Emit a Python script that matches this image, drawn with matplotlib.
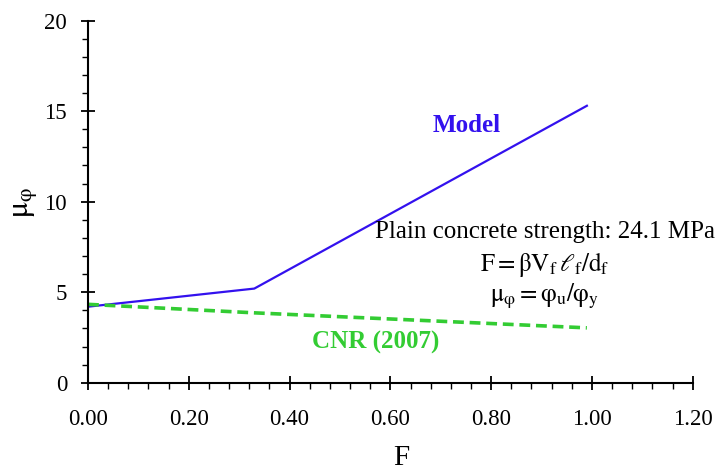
import matplotlib
matplotlib.use("Agg")
import matplotlib.pyplot as plt
from matplotlib.ticker import MultipleLocator, FormatStrFormatter

plt.rcParams['font.family'] = ['Liberation Serif', 'DejaVu Serif']
plt.rcParams['mathtext.fontset'] = 'stix'

F_model = [0.0, 0.33, 0.99]
mu_model = [4.2, 5.2, 15.3]
F_cnr = [0.0, 0.33, 0.99]
mu_cnr = [4.33, 3.86, 3.03]

fig = plt.figure(figsize=(7.22, 4.71), dpi=100)
ax = fig.add_axes([88/722, (471-382.7)/471, (692.7-88)/722, (382.7-20.7)/471])

ax.plot(F_model, mu_model, color='#3311ee', lw=1.6)
ax.plot(F_cnr, mu_cnr, color='#33cc33', lw=2.6, ls=(0, (3, 1.6)))

ax.set_xlim(0, 1.2)
ax.set_ylim(0, 20)
ax.xaxis.set_major_locator(MultipleLocator(0.2))
ax.xaxis.set_minor_locator(MultipleLocator(0.04))
ax.yaxis.set_major_locator(MultipleLocator(5))
ax.yaxis.set_minor_locator(MultipleLocator(1))
ax.xaxis.set_major_formatter(FormatStrFormatter('%.2f'))
for s in ['top', 'right']:
    ax.spines[s].set_visible(False)
for s in ['left', 'bottom']:
    ax.spines[s].set_linewidth(1.5)
ax.tick_params(which='major', direction='inout', length=10, width=1.3, labelsize=16.5)
ax.tick_params(which='minor', direction='out', length=4, width=1.0)
ax.tick_params(axis='x', which='major', pad=14)
ax.tick_params(axis='y', which='major', pad=10)
ax.set_xlabel('F', fontsize=21)
ax.set_ylabel(r'$\mathrm{\mu_\varphi}$', fontsize=22)
ax.xaxis.set_label_coords((401-88)/604.7, -(458-382.7)/362)
ax.xaxis.label.set_va('center')
ax.yaxis.set_label_coords((25-88)/604.7, (382.7-202)/362)
ax.yaxis.label.set_va('center')

ax.text(0.752, 14.2, 'Model', color='#3311ee', fontsize=18, fontweight='bold', ha='center', va='center')
ax.text(0.571, 2.25, 'CNR (2007)', color='#33cc33', fontsize=18, fontweight='bold', ha='center', va='center')
ax.text(0.907, 8.3, 'Plain concrete strength: 24.1 MPa', fontsize=18, ha='center', va='center')
ax.text(0.907, 6.55, r'$\mathrm{F = \beta V_f\,\ell_f/d_f}$', fontsize=18, ha='center', va='center')
ax.text(0.907, 4.8, r'$\mathrm{\mu_\varphi = \varphi_u/\varphi_y}$', fontsize=18, ha='center', va='center')

fig.savefig('out.png', dpi=100)
